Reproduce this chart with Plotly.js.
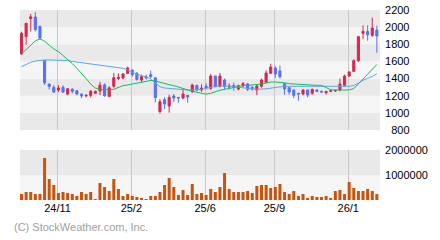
<!DOCTYPE html>
<html><head><meta charset="utf-8">
<script src="https://cdn.plot.ly/plotly-3.0.1.min.js"></script>
<style>html,body{margin:0;padding:0;background:#fff}#c{width:440px;height:240px}</style>
</head><body><div id="c"></div>
<script>
const open  = [1687,1890,2100,2118,2010,1610,1336,1298,1267,1298,1220,1274,1259,1220,1197,1204,1228,1255,1327,1193,1310,1400,1407,1461,1500,1461,1383,1422,1446,1409,1016,1154,1080,1197,1181,1173,1206,1247,1321,1267,1310,1286,1430,1310,1383,1302,1321,1278,1317,1337,1298,1267,1310,1356,1461,1523,1488,1340,1294,1267,1228,1220,1267,1228,1267,1251,1236,1251,1255,1267,1321,1430,1484,1609,1928,1951,1904,1967];
const high  = [1947,2050,2155,2175,2012,1615,1340,1321,1321,1321,1282,1290,1267,1222,1220,1267,1258,1362,1344,1310,1465,1461,1461,1539,1502,1477,1446,1446,1492,1411,1160,1181,1212,1220,1183,1270,1208,1340,1329,1333,1344,1453,1432,1465,1400,1344,1352,1329,1360,1348,1313,1333,1399,1496,1574,1543,1551,1342,1296,1269,1230,1274,1269,1282,1274,1259,1255,1262,1264,1399,1446,1484,1625,1892,2021,2021,2110,2017];
const low   = [1675,1792,1950,1950,1850,1328,1273,1232,1243,1232,1204,1228,1204,1173,1181,1181,1225,1206,1189,1181,1294,1383,1391,1453,1422,1376,1360,1391,1407,1123,991,1045,1002,1127,1119,1158,1119,1232,1251,1247,1274,1270,1298,1298,1270,1274,1259,1263,1298,1255,1259,1208,1294,1348,1453,1407,1399,1212,1212,1173,1142,1204,1181,1212,1243,1236,1212,1243,1245,1251,1306,1422,1477,1593,1858,1842,1889,1702];
const close = [1928,2045,2120,1970,1872,1350,1308,1243,1290,1243,1282,1251,1220,1197,1204,1251,1251,1323,1200,1292,1410,1415,1454,1523,1446,1391,1422,1407,1422,1179,1129,1103,1181,1173,1173,1220,1185,1325,1267,1290,1290,1430,1306,1430,1310,1310,1298,1317,1340,1274,1280,1313,1383,1465,1535,1453,1422,1278,1243,1204,1220,1267,1208,1274,1251,1243,1251,1259,1262,1337,1430,1477,1609,1889,1951,1912,1990,1897];
const maShort = [1687,1740,1795,1840,1866,1835,1790,1745,1715,1670,1620,1575,1520,1465,1400,1335,1290,1272,1270,1270,1275,1298,1318,1325,1335,1345,1352,1368,1378,1372,1355,1340,1328,1318,1300,1282,1265,1251,1240,1228,1218,1228,1250,1265,1274,1285,1298,1310,1317,1321,1323,1325,1335,1348,1360,1360,1360,1352,1340,1337,1335,1325,1321,1321,1321,1321,1300,1270,1267,1267,1267,1267,1283,1340,1396,1452,1508,1564];
const maLong  = [1539,1566,1590,1605,1613,1617,1617,1617,1615,1613,1610,1600,1593,1585,1578,1565,1558,1550,1545,1538,1532,1527,1520,1500,1470,1450,1435,1420,1395,1345,1305,1290,1285,1278,1274,1270,1267,1267,1270,1274,1286,1300,1308,1313,1313,1313,1310,1300,1290,1283,1278,1275,1275,1280,1288,1295,1305,1310,1310,1310,1310,1310,1310,1310,1310,1310,1310,1310,1310,1310,1310,1310,1320,1345,1380,1400,1425,1455];
const volume = [240000,320000,320000,240000,240000,1680000,840000,600000,280000,320000,280000,240000,160000,320000,240000,320000,40000,680000,520000,360000,840000,440000,160000,240000,160000,120000,80000,40000,160000,160000,320000,600000,880000,520000,200000,400000,200000,640000,240000,280000,200000,440000,320000,520000,1080000,440000,320000,320000,320000,360000,280000,560000,600000,600000,480000,520000,640000,320000,240000,360000,160000,240000,80000,160000,120000,120000,160000,80000,360000,400000,240000,720000,480000,360000,360000,440000,360000,240000];
const dateTickPos = [7.8, 23.8, 39.8, 54.8, 70.8];
const dateTickText = ['24/11','25/2','25/6','25/9','26/1'];
const priceTicks = [800,1000,1200,1400,1600,1800,2000,2200];
const volumeTicks = [0,1000000,2000000];

const idx = open.map((_, i) => i);
const RED = '#d8264e', BLUE = '#5870f5';
const font = 'Liberation Sans, Arial, sans-serif';

const traces = [
  {type:'candlestick', x:idx, open:open, high:high, low:low, close:close, xaxis:'x', yaxis:'y',
   increasing:{line:{color:RED,width:1}, fillcolor:RED},
   decreasing:{line:{color:BLUE,width:1}, fillcolor:BLUE},
   whiskerwidth:0, hoverinfo:'skip', showlegend:false},
  {type:'scatter', mode:'lines', x:idx, y:maLong, xaxis:'x', yaxis:'y', line:{color:'#5aa6f2',width:1}, hoverinfo:'skip', showlegend:false},
  {type:'scatter', mode:'lines', x:idx, y:maShort, xaxis:'x', yaxis:'y', line:{color:'#10c05a',width:1}, hoverinfo:'skip', showlegend:false},
  {type:'bar', x:idx, y:volume, xaxis:'x', yaxis:'y2', marker:{color:'#c9530c', line:{width:0}}, hoverinfo:'skip', showlegend:false}
];

const shapes = [];
for (let k = 0; k < priceTicks.length - 1; k++) {
  shapes.push({type:'rect', xref:'x domain', yref:'y', x0:0, x1:1, y0:priceTicks[k], y1:priceTicks[k+1],
    fillcolor: (k % 2 === 0) ? '#e9e9e9' : '#f5f5f5', line:{width:0}, layer:'below'});
}
for (let k = 0; k < volumeTicks.length - 1; k++) {
  shapes.push({type:'rect', xref:'x domain', yref:'y2', x0:0, x1:1, y0:volumeTicks[k], y1:volumeTicks[k+1],
    fillcolor: (k % 2 === 0) ? '#f5f5f5' : '#e9e9e9', line:{width:0}, layer:'below'});
}

const layout = {
  width:440, height:240,
  margin:{l:20, r:10, t:10, b:40},
  paper_bgcolor:'#fff', plot_bgcolor:'rgba(0,0,0,0)',
  font:{family:font, size:11, color:'#000'},
  showlegend:false, bargap:0.35, boxgap:0.35,
  xaxis:{domain:[0, 360/410], range:[-0.325, 77.68], anchor:'y2', type:'linear',
    tickvals:dateTickPos, ticktext:dateTickText, showgrid:true, gridcolor:'#c8c8c8', gridwidth:1,
    zeroline:false, showline:false, ticks:'', rangeslider:{visible:false}, fixedrange:true,
    tickfont:{family:font, size:11, color:'#000'}},
  yaxis:{domain:[70/190, 1], range:[800, 2200], anchor:'free', position:0.95, side:'left',
    tickvals:priceTicks, ticktext:priceTicks.map(String), showgrid:false, zeroline:false, showline:false, ticks:'',
    tickfont:{family:font, size:11, color:'#000'}},
  yaxis2:{domain:[0, 50/190], range:[0, 2000000], anchor:'free', position:0.995, side:'left',
    tickvals:volumeTicks.slice(1), ticktext:volumeTicks.slice(1).map(String), showgrid:false, zeroline:false, showline:false, ticks:'',
    tickfont:{family:font, size:11, color:'#000'}},
  shapes:shapes,
  annotations:[{text:'(C) StockWeather.com, Inc.', xref:'paper', yref:'paper', x:-8/410, y:-27/190,
    xanchor:'left', yanchor:'middle', showarrow:false, font:{family:font, size:11, color:'#a0a0a0'}}]
};

Plotly.newPlot('c', traces, layout, {staticPlot:true, displayModeBar:false});
</script></body></html>
